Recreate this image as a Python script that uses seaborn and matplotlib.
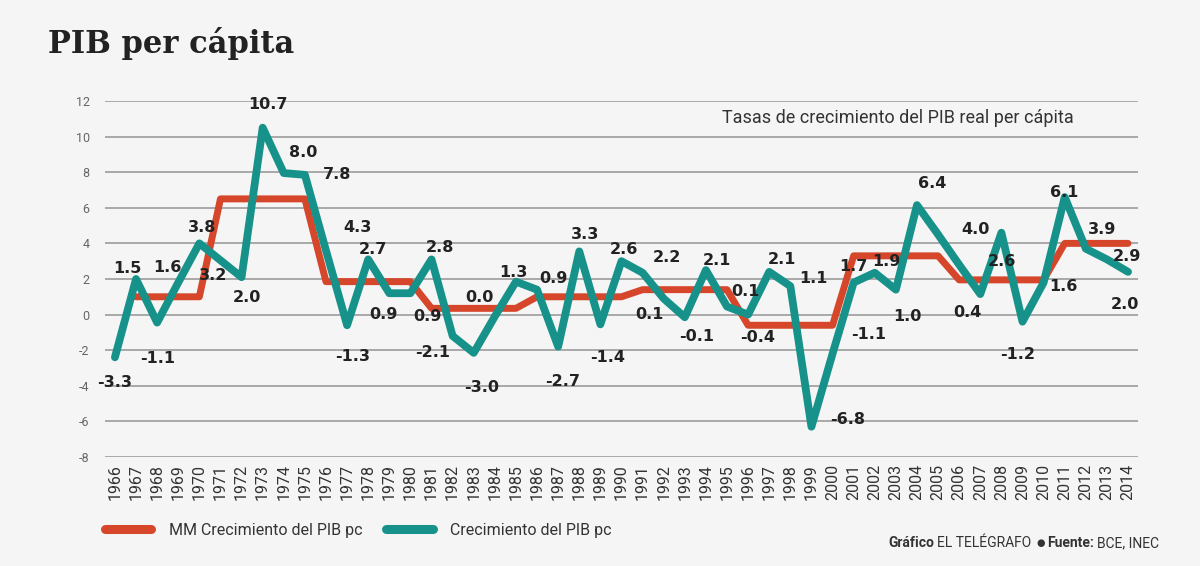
import numpy as np
import pandas as pd
import matplotlib
matplotlib.use("Agg")
import matplotlib.pyplot as plt
import seaborn as sns

# ---------------- data ----------------
years = list(range(1966, 2015))

# Crecimiento del PIB pc (line as drawn)
pib_pc = [-2.4, 2.0, -0.45, 1.8, 4.0, 3.05, 2.1, 10.5, 7.95, 7.85,
          3.6, -0.6, 3.1, 1.2, 1.2, 3.1, -1.2, -2.15, -0.1, 1.85,
          1.4, -1.8, 3.55, -0.55, 3.0, 2.35, 0.9, -0.15, 2.5, 0.45,
          0.0, 2.4, 1.6, -6.3, -2.2, 1.8, 2.35, 1.4, 6.15, 4.5,
          2.8, 1.15, 4.6, -0.4, 1.8, 6.6, 3.7, 3.1, 2.4]

# MM Crecimiento del PIB pc (moving average, as drawn)
mm_pc = [np.nan, 1.0, 1.0, 1.0, 1.0,
         6.5, 6.5, 6.5, 6.5, 6.5,
         1.85, 1.85, 1.85, 1.85, 1.85,
         0.35, 0.35, 0.35, 0.35, 0.35,
         1.0, 1.0, 1.0, 1.0, 1.0,
         1.4, 1.4, 1.4, 1.4, 1.4,
         -0.6, -0.6, -0.6, -0.6, -0.6,
         3.3, 3.3, 3.3, 3.3, 3.3,
         1.95, 1.95, 1.95, 1.95, 1.95,
         4.0, 4.0, 4.0, 4.0]

# printed value labels (one per year, '' = none)
value_labels = ["-3.3", "1.5", "-1.1", "1.6", "3.8", "3.2", "2.0", "10.7", "8.0", "7.8",
                "4.3", "-1.3", "2.7", "0.9", "0.9", "2.8", "-2.1", "-3.0", "0.0", "1.3",
                "0.9", "-2.7", "3.3", "-1.4", "2.6", "2.2", "0.1", "-0.1", "2.1", "0.1",
                "-0.4", "2.1", "1.1", "-6.8", "-1.1", "1.7", "1.9", "1.0", "6.4", "4.0",
                "2.6", "0.4", "", "-1.2", "1.6", "6.1", "3.9", "2.9", "2.0"]

yticks = [-8, -6, -4, -2, 0, 2, 4, 6, 8, 10, 12]

series_mm = "MM Crecimiento del PIB pc"
series_pc = "Crecimiento del PIB pc"

# ---------------- label placement (pixel offsets from each point) ----------------
label_dx = [0, -9, 0, -11, 3, -7, 5, 5, 19, 32,
            32, 6, 5, -6, 17, 8, -20, 8, -15, -3,
            16, 4, 6, 7, 2, 24, -14, 12, 11, 18,
            10, 13, 23, 36, 36, 0, 12, 12, 15, 37,
            43, -13, 0, -5, 20, -1, 16, 20, -3]
label_dy = [-25, 10, -36, 15, 16, -15, -20, 23, 21, 0,
            23, -31, 10, -21, -23, 12, -17, -35, 19, 9,
            11, -35, 17, -33, 12, 15, -16, -19, 10, 15,
            -23, 12, 8, 7, 19, 16, 11, -27, 22, 5,
            3, -18, 0, -33, -4, 5, 19, 3, -33]

# ---------------- style ----------------
BG = "#f5f5f5"
RED = "#d5462b"
TEAL = "#17928a"
GRID = "#a3a3a3"

sns.set_theme(style="white")
plt.rcParams["font.family"] = ["Roboto", "DejaVu Sans"]

df = pd.DataFrame({
    "year": years * 2,
    "value": mm_pc + pib_pc,
    "series": [series_mm] * len(years) + [series_pc] * len(years),
})

fig, ax = plt.subplots(figsize=(12, 5.66), dpi=100)
fig.patch.set_facecolor(BG)
ax.set_facecolor(BG)
fig.subplots_adjust(left=0.0875, right=0.9483, bottom=0.1926, top=0.8216)

sns.lineplot(data=df, x="year", y="value", hue="series",
             hue_order=[series_mm, series_pc],
             palette={series_mm: RED, series_pc: TEAL},
             ax=ax, linewidth=5.5, solid_capstyle="round", zorder=3)
lines = ax.get_lines()
if len(lines) >= 2:
    lines[0].set_linewidth(5.0)
    lines[1].set_linewidth(5.6)

ax.set_xlim(1965.53, 2014.47)
ax.set_ylim(-8, 12)
ax.set_yticks(yticks, [str(v) for v in yticks])
ax.set_xticks(years, [str(y) for y in years], rotation=90)
ax.tick_params(axis="y", length=0, pad=11, labelsize=9, labelcolor="#666666")
ax.tick_params(axis="x", length=0, pad=5, labelsize=11.5, labelcolor="#333333")
ax.yaxis.grid(True, color=GRID, linewidth=1.3, zorder=0)
ax.xaxis.grid(False)
for s in ax.spines.values():
    s.set_visible(False)
ax.set_xlabel("")
ax.set_ylabel("")

# value labels
for yr, val, lab, dx, dy in zip(years, pib_pc, value_labels, label_dx, label_dy):
    if lab:
        ax.annotate(lab, xy=(yr, val), xytext=(dx, dy), textcoords="offset pixels",
                    ha="center", va="center", fontsize=11.5, fontweight="bold",
                    color="#222222", family=["DejaVu Sans"], zorder=5)

# legend
sns.move_legend(ax, "center left", bbox_to_anchor=(97 / 1200, 1 - 530 / 566),
                bbox_transform=fig.transFigure, ncol=2, frameon=False, title=None,
                borderpad=0, handlelength=2.9, handletextpad=1.1, columnspacing=1.5,
                fontsize=11.5)
leg = ax.get_legend()
for t in leg.get_texts():
    t.set_color("#333333")
for h in leg.get_lines():
    h.set_linewidth(6.5)
    h.set_solid_capstyle("round")

# title & subtitle
fig.text(48 / 1200, 1 - 44 / 566, "PIB per cápita", family=["DejaVu Serif"],
         fontweight="bold", fontsize=22, color="#222222", ha="left", va="center")
fig.text(722 / 1200, 1 - 118 / 566, "Tasas de crecimiento del PIB real per cápita",
         fontsize=13, color="#333333", ha="left", va="center")

# footer
FS = 10
t1 = fig.text(888 / 1200, 1 - 543 / 566, "Gráfico", fontsize=FS, fontweight="bold",
              color="#333333", ha="left", va="center")
t2 = ax.annotate("EL TELÉGRAFO", xy=(1, 0.5), xycoords=t1, xytext=(3, 0),
                 textcoords="offset pixels", fontsize=FS, color="#333333",
                 ha="left", va="center")
t3 = ax.annotate("●", xy=(1, 0.5), xycoords=t2, xytext=(5, 0),
                 textcoords="offset pixels", fontsize=7, color="#333333",
                 ha="left", va="center", family=["DejaVu Sans"])
t4 = ax.annotate("Fuente:", xy=(1, 0.5), xycoords=t3, xytext=(3, 0),
                 textcoords="offset pixels", fontsize=FS, fontweight="bold",
                 color="#333333", ha="left", va="center")
t5 = ax.annotate("BCE, INEC", xy=(1, 0.5), xycoords=t4, xytext=(3, 0),
                 textcoords="offset pixels", fontsize=FS, color="#333333",
                 ha="left", va="center")

fig.savefig("out.png", dpi=100, facecolor=BG)
